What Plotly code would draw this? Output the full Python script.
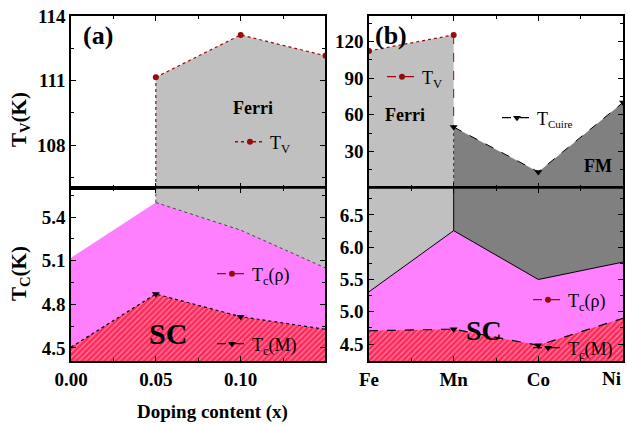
import plotly.graph_objects as go

# ---------------- data ----------------
# panel (a): doping content
x_a = [0.0, 0.05, 0.10, 0.15]
tv_a_x = [0.05, 0.10, 0.15]
tv_a = [111.15, 113.12, 112.15]
tc_rho_a = [5.12, 5.50, 5.31, 5.05]
tc_m_a = [4.505, 4.871, 4.715, 4.628]

# panel (b): dopant element
elements = ["Fe", "Mn", "Co", "Ni"]
x_b = [0, 1, 2, 3]
tv_b_x = [0, 1]
tv_b = [112.4, 125.5]
tcurie_x = [1, 2, 3]
tcurie_b = [50.0, 13.2, 70.1]
tc_rho_b = [5.31, 6.257, 5.50, 5.77]
tc_m_b = [4.706, 4.73, 4.48, 4.898]

# axis ranges
ya_top = [106, 114]
ya_bot = [4.41, 5.60]
yb_top = [0, 141]
yb_bot = [4.237, 6.918]
xa_rng = [0, 0.1497]
xb_rng = [0, 3]

LGRAY = "#c0c0c0"
DGRAY = "#808080"
PINK = "#ff80ff"
DRED = "#9b0a0a"
FONT = "Liberation Serif"

hatch = dict(shape="/", bgcolor="#ff2a55", fgcolor="#ff80b0", size=4, solidity=0.3, fillmode="replace")

fig = go.Figure()

def nolg(**kw):
    kw.setdefault("showlegend", False)
    kw.setdefault("hoverinfo", "skip")
    return go.Scatter(**kw)

# ---------- (a) top ----------
fig.add_trace(nolg(x=tv_a_x, y=tv_a, mode="none", fill="tozeroy", fillcolor=LGRAY, xaxis="x", yaxis="y"))
fig.add_trace(nolg(x=[tv_a_x[0], tv_a_x[0]], y=[ya_top[0], tv_a[0]], mode="lines",
                   line=dict(color=DRED, width=1.2, dash="dot"), xaxis="x", yaxis="y"))
fig.add_trace(nolg(x=tv_a_x, y=tv_a, mode="lines+markers", line=dict(color=DRED, width=1.2, dash="dot"),
                   marker=dict(color=DRED, size=6), xaxis="x", yaxis="y"))
fig.add_trace(go.Scatter(x=[None], y=[None], mode="lines+markers", name="T<sub>V</sub>",
                         line=dict(color=DRED, width=1.5, dash="dot"), marker=dict(color=DRED, size=6),
                         xaxis="x", yaxis="y", legend="legend"))

# ---------- (a) bottom ----------
fig.add_trace(nolg(x=x_a[1:], y=[ya_bot[1]] * 3, mode="none", fill="tozeroy", fillcolor=LGRAY, xaxis="x3", yaxis="y3"))
fig.add_trace(nolg(x=x_a, y=tc_rho_a, mode="none", fill="tozeroy", fillcolor=PINK, xaxis="x3", yaxis="y3"))
fig.add_trace(nolg(x=x_a, y=tc_m_a, mode="none", fill="tozeroy", fillpattern=hatch, fillcolor="#ff2a55", xaxis="x3", yaxis="y3"))
fig.add_trace(nolg(x=x_a[1:], y=tc_rho_a[1:], mode="lines", line=dict(color="#444444", width=1, dash="dot"),
                   xaxis="x3", yaxis="y3"))
fig.add_trace(nolg(x=[x_a[1], x_a[1]], y=[tc_rho_a[1], ya_bot[1]], mode="lines",
                   line=dict(color="#444444", width=1, dash="dot"), xaxis="x3", yaxis="y3"))
fig.add_trace(nolg(x=x_a, y=tc_m_a, mode="lines", line=dict(color="black", width=1.2, dash="dot"),
                   xaxis="x3", yaxis="y3"))
fig.add_trace(nolg(x=x_a[1:3], y=tc_m_a[1:3], mode="markers", marker=dict(symbol="triangle-down", color="black", size=7),
                   xaxis="x3", yaxis="y3"))
fig.add_trace(go.Scatter(x=[None], y=[None], mode="lines+markers", name="T<sub>c</sub>(ρ)",
                         line=dict(color=DRED, width=1.3, dash="dash"), marker=dict(color=DRED, size=6),
                         xaxis="x3", yaxis="y3", legend="legend2"))
fig.add_trace(go.Scatter(x=[None], y=[None], mode="lines+markers", name="T<sub>c</sub>(M)",
                         line=dict(color="black", width=1.3, dash="dash"),
                         marker=dict(color="black", size=7, symbol="triangle-down"),
                         xaxis="x3", yaxis="y3", legend="legend3"))

# ---------- (b) top ----------
fig.add_trace(nolg(x=tv_b_x, y=tv_b, mode="none", fill="tozeroy", fillcolor=LGRAY, xaxis="x2", yaxis="y2"))
fig.add_trace(nolg(x=tcurie_x, y=tcurie_b, mode="none", fill="tozeroy", fillcolor=DGRAY, xaxis="x2", yaxis="y2"))
fig.add_trace(nolg(x=[tv_b_x[1], tv_b_x[1]], y=[tv_b[1], tcurie_b[0]], mode="lines",
                   line=dict(color=DRED, width=1, dash="dash"), xaxis="x2", yaxis="y2"))
fig.add_trace(nolg(x=[tcurie_x[0], tcurie_x[0]], y=[tcurie_b[0], yb_top[0]], mode="lines",
                   line=dict(color="#333333", width=1, dash="dot"), xaxis="x2", yaxis="y2"))
fig.add_trace(nolg(x=tv_b_x, y=tv_b, mode="lines+markers", line=dict(color=DRED, width=1.2, dash="dot"),
                   marker=dict(color=DRED, size=6), xaxis="x2", yaxis="y2"))
fig.add_trace(nolg(x=tcurie_x, y=tcurie_b, mode="lines+markers", line=dict(color="black", width=1, dash="dash"),
                   marker=dict(color="black", size=7, symbol="triangle-down"), xaxis="x2", yaxis="y2"))
fig.add_trace(go.Scatter(x=[None], y=[None], mode="lines+markers", name="T<sub>V</sub>",
                         line=dict(color=DRED, width=1.3, dash="dash"), marker=dict(color=DRED, size=6),
                         xaxis="x2", yaxis="y2", legend="legend4"))
fig.add_trace(go.Scatter(x=[None], y=[None], mode="lines+markers", name="T<sub><span style='font-size:11px'>Cuire</span></sub>",
                         line=dict(color="black", width=1.3, dash="dash"),
                         marker=dict(color="black", size=7, symbol="triangle-down"),
                         xaxis="x2", yaxis="y2", legend="legend5"))

# ---------- (b) bottom ----------
fig.add_trace(nolg(x=x_b[:2], y=[yb_bot[1]] * 2, mode="none", fill="tozeroy", fillcolor=LGRAY, xaxis="x4", yaxis="y4"))
fig.add_trace(nolg(x=x_b[1:], y=[yb_bot[1]] * 3, mode="none", fill="tozeroy", fillcolor=DGRAY, xaxis="x4", yaxis="y4"))
fig.add_trace(nolg(x=x_b, y=tc_rho_b, mode="none", fill="tozeroy", fillcolor=PINK, xaxis="x4", yaxis="y4"))
fig.add_trace(nolg(x=x_b, y=tc_m_b, mode="none", fill="tozeroy", fillpattern=hatch, fillcolor="#ff2a55", xaxis="x4", yaxis="y4"))
fig.add_trace(nolg(x=x_b, y=tc_rho_b, mode="lines", line=dict(color="black", width=1), xaxis="x4", yaxis="y4"))
fig.add_trace(nolg(x=[x_b[1], x_b[1]], y=[tc_rho_b[1], yb_bot[1]], mode="lines", line=dict(color="black", width=1),
                   xaxis="x4", yaxis="y4"))
fig.add_trace(nolg(x=x_b, y=tc_m_b, mode="lines", line=dict(color="black", width=1.2, dash="dash"),
                   xaxis="x4", yaxis="y4"))
fig.add_trace(nolg(x=x_b[1:3], y=tc_m_b[1:3], mode="markers", marker=dict(symbol="triangle-down", color="black", size=7),
                   xaxis="x4", yaxis="y4"))
fig.add_trace(go.Scatter(x=[None], y=[None], mode="lines+markers", name="T<sub>c</sub>(ρ)",
                         line=dict(color=DRED, width=1.3, dash="dash"), marker=dict(color=DRED, size=6),
                         xaxis="x4", yaxis="y4", legend="legend6"))
fig.add_trace(go.Scatter(x=[None], y=[None], mode="lines+markers", name="T<sub>c</sub>(M)",
                         line=dict(color="black", width=1.3, dash="dash"),
                         marker=dict(color="black", size=7, symbol="triangle-down"),
                         xaxis="x4", yaxis="y4", legend="legend7"))

W, H = 628, 425
def px(x): return x / W
def py(y): return 1 - y / H

XA = [px(71), px(325)]
XB = [px(369), px(623)]
YT = [py(188), py(16)]
YB = [py(361), py(188)]

tickfont = dict(family=FONT, size=19, color="black")
common = dict(showline=True, linecolor="black", linewidth=1.5, mirror="ticks", ticks="inside",
              ticklen=5, tickwidth=1.2, tickcolor="black", showgrid=False, zeroline=False,
              tickfont=tickfont, layer="above traces", automargin=False)
minor_x = dict(ticks="inside", ticklen=3, tickcolor="black", showgrid=False)

def legend_at(xp, yp):
    return dict(x=px(xp), y=py(yp), xanchor="left", yanchor="middle", bgcolor="rgba(0,0,0,0)",
                font=dict(family=FONT, size=18, color="black"), itemwidth=30, borderwidth=0,
                tracegroupgap=0)

ann_font = lambda s: dict(family=FONT, size=s, color="black")
annotations = [
    dict(text="<b>(a)</b>", x=px(98), y=py(35), font=ann_font(26)),
    dict(text="<b>(b)</b>", x=px(391), y=py(35), font=ann_font(26)),
    dict(text="<b>Ferri</b>", x=px(253), y=py(108), font=ann_font(18)),
    dict(text="<b>Ferri</b>", x=px(405), y=py(115), font=ann_font(18)),
    dict(text="<b>FM</b>", x=px(598), y=py(166), font=ann_font(18)),
    dict(text="<b>SC</b>", x=px(168), y=py(333), font=ann_font(30)),
    dict(text="<b>SC</b>", x=px(484), y=py(330), font=ann_font(28)),
    dict(text="<b>T<sub>V</sub>(K)</b>", x=px(20), y=py(120), textangle=-90, font=ann_font(21)),
    dict(text="<b>T<sub>C</sub>(K)</b>", x=px(20), y=py(274), textangle=-90, font=ann_font(21)),
    dict(text="<b>Doping content (x)</b>", x=px(212), y=py(412), font=ann_font(19)),
]
for a in annotations:
    a.update(xref="paper", yref="paper", showarrow=False, xanchor="center", yanchor="middle")
# last category label sits flush with the right edge, as in the reference
annotations.append(dict(text="<b>%s</b>" % elements[-1], xref="x4", yref="paper", x=x_b[-1], y=py(378.5),
                        xanchor="right", yanchor="middle", showarrow=False, font=ann_font(19)))

# panel boundary lines drawn above the fills
shapes = [
    dict(type="line", xref="paper", yref="paper", x0=XA[0], x1=XA[1], y0=YT[0], y1=YT[0],
         line=dict(color="black", width=1.5), layer="above"),
    dict(type="line", xref="paper", yref="paper", x0=XB[0], x1=XB[1], y0=YT[0], y1=YT[0],
         line=dict(color="black", width=1.5), layer="above"),
]

fig.update_layout(
    template="none",
    width=W, height=H, margin=dict(l=0, r=0, t=0, b=0, pad=0, autoexpand=False),
    paper_bgcolor="white", plot_bgcolor="white",
    font=dict(family=FONT, color="black"),
    xaxis=dict(domain=XA, anchor="y", range=xa_rng, tickvals=[0, 0.05, 0.10], showticklabels=False,
               minor=dict(dtick=0.025, **minor_x), **common),
    yaxis=dict(domain=YT, anchor="x", range=ya_top, tickvals=[108, 111, 114], ticktext=["<b>108</b>", "<b>111</b>", "<b>114</b>"],
               minor=dict(dtick=1.5, **minor_x), **common),
    xaxis3=dict(domain=XA, anchor="y3", range=xa_rng, tickvals=[0, 0.05, 0.10],
                ticktext=["<b>0.00</b>", "<b>0.05</b>", "<b>0.10</b>"],
                minor=dict(dtick=0.025, **minor_x), **common),
    yaxis3=dict(domain=YB, anchor="x3", range=ya_bot, tickvals=[4.5, 4.8, 5.1, 5.4],
                ticktext=["<b>4.5</b>", "<b>4.8</b>", "<b>5.1</b>", "<b>5.4</b>"],
                minor=dict(dtick=0.15, **minor_x), **common),
    xaxis2=dict(domain=XB, anchor="y2", range=xb_rng, tickvals=x_b, showticklabels=False,
                minor=dict(dtick=0.5, **minor_x), **common),
    yaxis2=dict(domain=YT, anchor="x2", range=yb_top, tickvals=[30, 60, 90, 120],
                ticktext=["<b>30</b>", "<b>60</b>", "<b>90</b>", "<b>120</b>"],
                minor=dict(dtick=15, **minor_x), **common),
    xaxis4=dict(domain=XB, anchor="y4", range=xb_rng, tickvals=x_b,
                ticktext=["<b>%s</b>" % e for e in elements[:-1]] + [""],
                minor=dict(dtick=0.5, **minor_x), **common),
    yaxis4=dict(domain=YB, anchor="x4", range=yb_bot, tickvals=[4.5, 5.0, 5.5, 6.0, 6.5],
                ticktext=["<b>4.5</b>", "<b>5.0</b>", "<b>5.5</b>", "<b>6.0</b>", "<b>6.5</b>"],
                minor=dict(dtick=0.25, **minor_x), **common),
    legend=legend_at(230, 142),
    legend2=legend_at(212, 274),
    legend3=legend_at(212, 344),
    legend4=legend_at(382, 77),
    legend5=legend_at(497, 118),
    legend6=legend_at(528, 300),
    legend7=legend_at(528, 348),
    annotations=annotations,
    shapes=shapes,
)

fig.write_html("out.html")
